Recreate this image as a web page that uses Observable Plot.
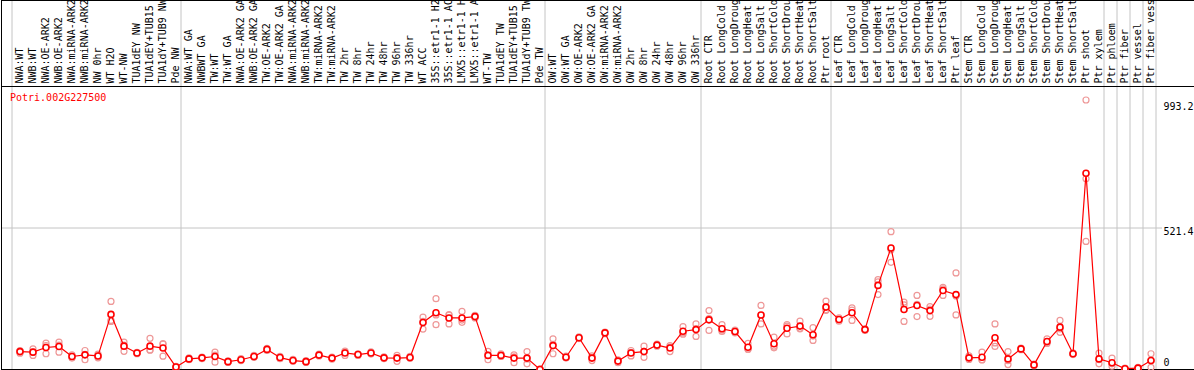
<!DOCTYPE html>
<html>
<head>
<meta charset="utf-8">
<script src="https://cdn.jsdelivr.net/npm/d3@7"></script>
<script src="https://cdn.jsdelivr.net/npm/@observablehq/plot@0.6"></script>
<style>
  html, body { margin: 0; padding: 0; background: #fff; }
  svg { display: block; }
</style>
</head>
<body>
<div id="chart"></div>
<script>
const geneId = "Potri.002G227500";

const samples = [
  "NWA:WT","NWB:WT","NWA:OE-ARK2","NWB:OE-ARK2","NWA:miRNA-ARK2","NWB:miRNA-ARK2","NW 0hr","WT H2O","WT-NW",
  "TUA1dEY NW","TUA1dEY+TUB15 NW","TUA1dY+TUB9 NW","Pde NW",
  "NWA:WT GA","NWBWT GA","TW:WT","TW:WT GA","NWA:OE-ARK2 GA","NWB:OE-ARK2 GA","TW:OE-ARK2","TW:OE-ARK2 GA",
  "NWA:miRNA-ARK2","NWB:miRNA-ARK2","TW:miRNA-ARK2","TW:miRNA-ARK2","TW 2hr","TW 8hr","TW 24hr","TW 48hr","TW 96hr","TW 336hr",
  "WT ACC","35S::etr1-1 H2O","35S::etr1-1 ACC","LMX5::etr1-1 H2O","LMX5::etr1-1 ACC","WT-TW","TUA1dEY TW","TUA1dEY+TUB15 TW","TUA1dY+TUB9 TW","Pde TW",
  "OW:WT","OW:WT GA","OW:OE-ARK2","OW:OE-ARK2 GA","OW:miRNA-ARK2","OW:miRNA-ARK2","OW 2hr","OW 8hr","OW 24hr","OW 48hr","OW 96hr","OW 336hr",
  "Root CTR","Root LongCold","Root LongDrought","Root LongHeat","Root LongSalt","Root ShortCold","Root ShortDrought","Root ShortHeat","Root ShortSalt","Ptr root",
  "Leaf CTR","Leaf LongCold","Leaf LongDrought","Leaf LongHeat","Leaf LongSalt","Leaf ShortCold","Leaf ShortDrought","Leaf ShortHeat","Leaf ShortSalt","Ptr leaf",
  "Stem CTR","Stem LongCold","Stem LongDrought","Stem LongHeat","Stem LongSalt","Stem ShortCold","Stem ShortDrought","Stem ShortHeat","Stem ShortSalt","Ptr shoot","Ptr xylem",
  "Ptr phloem","Ptr fiber","Ptr vessel","Ptr fiber vessel"
];

// index of the first sample of each block (vertical separators)
const groupStarts = [0, 13, 41, 53, 63, 73, 84, 85, 86, 87, 88];

const meanValues = [
  66,64,81,85,48,54,50,203,86,61,86,79,9,
  39,43,48,29,36,48,74,44,33,29,53,42,61,55,61,43,42,44,173,209,190,190,195,52,52,42,42,0,
  88,45,117,42,135,31,61,66,90,79,141,147,
  183,150,140,82,201,95,152,160,128,230,
  184,209,147,310,448,221,236,217,291,276,
  43,45,117,39,76,17,103,156,58,723,39,
  25,3,5,33
];
const rep1 = [
  60,76,97,101,54,70,57,251,101,63,115,95,4,
  36,40,64,26,33,45,78,40,30,26,50,38,68,52,65,40,52,41,193,261,200,214,200,67,58,54,66,0,
  113,42,120,50,138,36,70,86,94,88,158,168,
  217,165,145,96,236,119,160,178,154,252,
  190,227,150,331,508,248,273,232,303,356,
  50,64,168,66,79,14,113,181,55,993.2,60,
  42,1,3,58
];
const rep2 = [
  70,52,58,64,42,36,43,181,67,58,72,49,12,
  43,46,27,32,40,52,70,48,37,33,57,46,52,58,57,47,30,48,149,165,168,174,190,36,50,25,21,0,
  58,49,114,33,132,25,50,45,86,66,130,122,
  144,140,135,75,168,80,131,150,107,220,
  178,181,144,276,395,177,195,196,273,201,
  37,36,85,18,73,20,96,137,61,703,21,
  12,5,8,8
];
const rep3 = [
  68,64,88,90,48,56,50,177,90,62,71,93,11,
  38,43,53,29,35,47,74,44,32,28,52,42,63,55,61,42,44,43,177,201,202,182,195,53,48,47,39,2,
  93,44,117,43,135,32,63,67,90,83,135,151,
  188,145,140,75,199,86,165,152,123,218,
  184,219,147,323,441,238,240,223,297,271,
  42,35,98,33,76,17,100,150,58,472,36,
  21,3,4,33
];

const yMaxValue = 993.2;
const yTop = yMaxValue * 1.05;
const yMid = yTop / 2;

const reps = [];
[rep1, rep2, rep3].forEach(r => r.forEach((v, i) => reps.push({i, v})));
const means = meanValues.map((v, i) => ({i, v}));
const bounds = groupStarts.map(k => k - 8 / 13);

const mono = "DejaVu Sans Mono";

const plot = Plot.plot({
  width: 1194,
  height: 370,
  marginTop: 86,
  marginBottom: 1,
  marginLeft: 1,
  marginRight: 0,
  x: {domain: [0, samples.length - 1], range: [19.5, 1150.5], axis: null},
  y: {domain: [0, yTop], axis: null},
  style: {background: "white"},
  marks: [
    Plot.ruleY([yMid], {stroke: "#c4c4c4", insetRight: 32}),
    Plot.ruleX(bounds, {x: d => d, stroke: "#c4c4c4", insetTop: -86}),
    Plot.frame({stroke: "black", insetTop: -86}),
    Plot.ruleY([yTop], {stroke: "black"}),
    Plot.text(samples, {
      x: (d, i) => i, frameAnchor: "top", rotate: -90, textAnchor: "start",
      lineAnchor: "middle", dy: -3, fontFamily: mono, fontSize: 10, fill: "black"
    }),
    Plot.text([geneId], {
      frameAnchor: "top-left", textAnchor: "start", lineAnchor: "top",
      dx: 8.5, dy: 7, fontFamily: mono, fontSize: 10, fill: "#ff0000"
    }),
    Plot.text([yMaxValue], {y: d => d, text: d => d.toFixed(1), frameAnchor: "right", textAnchor: "start", lineAnchor: "top", dx: -31, dy: 3, fontFamily: mono, fontSize: 10, fill: "black"}),
    Plot.text([yMid], {y: d => d, text: d => d.toFixed(1), frameAnchor: "right", textAnchor: "start", lineAnchor: "top", dx: -31, dy: 0, fontFamily: mono, fontSize: 10, fill: "black"}),
    Plot.text([0], {y: d => d, text: d => String(d), frameAnchor: "right", textAnchor: "start", lineAnchor: "bottom", dx: -31, dy: -4, fontFamily: mono, fontSize: 10, fill: "black"}),
    Plot.dot(reps, {x: "i", y: "v", r: 3, stroke: "#ee9898", strokeWidth: 1.2, fill: "none"}),
    Plot.line(means, {x: "i", y: "v", stroke: "#ff0000", strokeWidth: 1.2}),
    Plot.dot(means, {x: "i", y: "v", r: 3, stroke: "#ff0000", strokeWidth: 1.6, fill: "white"})
  ]
});
document.getElementById("chart").appendChild(plot);
</script>
</body>
</html>
